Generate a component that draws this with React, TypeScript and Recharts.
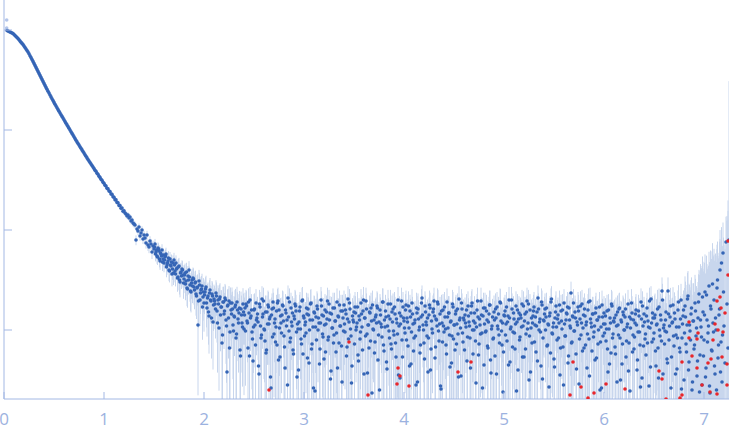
import React from 'react';
import { ScatterChart, Scatter, XAxis, YAxis, ErrorBar } from 'recharts';

// q grid step of the measurement (nm^-1)
const Q_STEP = 0.01;

// log10 intensity
const lowQStart = 0.03;
const lowQLogI = [
  -0.005, -0.01, -0.015, -0.02, -0.025, -0.03, -0.035, -0.045, -0.055, -0.065,
  -0.075, -0.085, -0.097, -0.11, -0.122, -0.134, -0.146, -0.16, -0.175, -0.19,
  -0.205, -0.22, -0.238, -0.257, -0.276, -0.295, -0.314, -0.334, -0.354, -0.374,
  -0.394, -0.414, -0.434, -0.454, -0.474, -0.494, -0.514, -0.534, -0.554, -0.574,
  -0.593, -0.612, -0.631, -0.65, -0.669, -0.688, -0.706, -0.724, -0.742, -0.76,
  -0.778, -0.796, -0.813, -0.83, -0.847, -0.864, -0.881, -0.898, -0.915, -0.932,
  -0.949, -0.966, -0.983, -1.0, -1.017, -1.034, -1.051, -1.068, -1.085, -1.102,
  -1.119, -1.135, -1.151, -1.167, -1.183, -1.199, -1.215, -1.231, -1.247, -1.263,
  -1.279, -1.295, -1.31, -1.325, -1.34, -1.355, -1.37, -1.385, -1.402, -1.413,
  -1.432, -1.443, -1.462, -1.474, -1.492, -1.503, -1.523, -1.533, -1.553, -1.561,
  -1.582, -1.589, -1.61, -1.616, -1.64, -1.643, -1.668, -1.672, -1.697, -1.699,
  -1.725, -1.727, -1.754, -1.755, -1.783, -1.78, -1.812, -1.808,
];

const midQStart = 1.21;
const midQLogI = [
  -1.83, -1.84, -1.86, -1.85, -1.88, -1.87, -1.91, -1.9, -1.93, -1.94,
  -1.95, -2.1, -1.99, -2.01, -1.97, -2.06, -2.03, -2.0, -2.09, -2.05,
  -2.08, -2.13, -2.05, -2.15, -2.17, -2.11, -2.14, -2.22, -2.16, -2.19,
  -2.14, -2.22, -2.26, -2.18, -2.21, -2.31, -2.24, -2.2, -2.29, -2.33,
  -2.27, -2.24, -2.35, -2.31, -2.4, -2.29, -2.36, -2.44, -2.33, -2.3,
  -2.41, -2.33, -2.38, -2.47, -2.36, -2.52, -2.42, -2.39, -2.45, -2.49,
  -2.43, -2.51, -2.58, -2.46, -2.4, -2.55, -2.62, -2.5, -2.48, -2.57,
  -2.53, -2.64, -2.58, -2.95, -2.51, -2.7, -2.6, -2.56, -2.67, -2.73,
  -2.62, -2.57, -2.78, -2.66, -2.86, -2.6, -2.71, -2.64, -2.92, -2.69,
  -2.74, -2.63, -2.81, -2.7, -2.98, -2.67, -2.77, -3.13, -2.72, -2.84,
  -2.68, -2.9, -3.42, -2.75, -2.71, -3.02, -2.8, -2.73, -2.95, -2.86,
  -2.77, -3.08, -2.72, -2.89, -2.83, -3.2, -2.79, -2.93, -2.74, -2.99,
];

// the in-between q values (half a step later) from 1.505 on
const midQStartB = 1.505;
const midQLogIB = [
  -2.17, -2.24, -2.2, -2.27, -2.19, -2.29, -2.23, -2.26, -2.32, -2.25,
  -2.3, -2.26, -2.37, -2.33, -2.28, -2.41, -2.35, -2.32, -2.39, -2.43,
  -2.35, -2.44, -2.39, -2.48, -2.37, -2.5, -2.43, -2.46, -2.4, -2.53,
  -2.45, -2.54, -2.42, -2.59, -2.5, -2.47, -2.61, -2.53, -2.56, -2.49,
  -2.6, -2.52, -2.66, -2.57, -2.71, -2.55, -2.63, -2.59, -2.77, -2.62,
  -2.65, -2.59, -2.73, -2.68, -2.82, -2.63, -2.7, -2.88, -2.66, -2.75,
  -2.71, -2.79, -2.66, -2.93, -2.74, -2.69, -2.85, -2.77, -3.05, -2.72,
  -2.81, -2.7, -2.96, -2.76, -2.88, -3.18, -2.73, -2.84, -2.79, -3.01,
  -2.87, -2.75, -3.04, -2.8, -2.93, -2.78, -3.26, -2.85, -2.97, -2.82,
];

const highQStart = 2.41;
const highQLogI = [
  -2.78, -2.74, -2.91, -3.18, -2.83, -2.7, -2.86, -3.02, -3.31, -2.8,
  -2.95, -2.73, -2.88, -2.92, -3.44, -2.77, -3.08, -2.69, -2.84, -2.99,
  -3.11, -3.23, -2.82, -2.75, -2.94, -2.87, -3.58, -2.79, -2.72, -3.04,
  -2.89, -2.97, -3.15, -2.71, -2.8, -3.27, -2.93, -2.85, -2.76, -3.06,
  -3.38, -2.83, -2.9, -2.68, -3.01, -3.12, -2.78, -2.96, -3.2, -2.86,
  -2.74, -2.81, -3.47, -2.99, -2.92, -2.77, -3.09, -2.71, -3.24, -2.88,
  -2.95, -3.03, -2.84, -2.79, -3.33, -2.9, -2.73, -3.14, -2.97, -2.82,
  -3.61, -2.87, -2.76, -3.0, -2.93, -3.19, -2.7, -2.85, -3.07, -3.29,
  -2.8, -2.94, -2.89, -3.1, -2.74, -2.83, -3.41, -2.98, -2.78, -3.05,
  -2.91, -3.22, -2.72, -2.86, -3.13, -2.96, -2.81, -3.52, -2.88, -2.75,
  -3.02, -2.84, -3.17, -2.69, -2.92, -2.79, -3.06, -3.36, -2.9, -2.82,
  -2.77, -3.0, -2.93, -3.25, -2.86, -3.09, -2.73, -2.97, -2.81, -3.44,
  -2.88, -2.71, -3.04, -2.95, -3.18, -2.83, -2.78, -3.63, -2.99, -2.9,
  -3.12, -2.85, -2.76, -3.3, -2.92, -2.8, -2.94, -3.07, -2.72, -3.21,
  -2.97, -2.87, -3.39, -2.74, -3.01, -2.89, -3.14, -2.82, -2.79, -3.05,
  -2.84, -3.27, -2.93, -2.7, -2.96, -3.48, -2.86, -3.1, -2.77, -2.91,
  -3.03, -2.75, -2.88, -3.16, -2.98, -2.81, -3.34, -2.73, -2.94, -3.08,
  -2.9, -3.55, -2.83, -2.79, -3.0, -3.23, -2.87, -2.68, -2.95, -3.13,
  -2.76, -2.92, -3.06, -3.42, -2.85, -2.78, -3.19, -2.99, -2.82, -2.71,
  -3.28, -2.89, -2.96, -2.74, -3.11, -2.84, -3.59, -2.93, -2.8, -3.02,
  -2.87, -3.15, -2.72, -2.98, -2.83, -3.37, -2.91, -3.06, -2.77, -2.95,
  -3.2, -2.81, -2.94, -3.04, -2.69, -2.88, -3.46, -2.79, -3.12, -2.9,
  -2.85, -2.97, -3.31, -2.76, -2.92, -3.08, -2.83, -2.73, -3.24, -3.0,
  -2.93, -3.53, -2.8, -2.87, -3.14, -2.95, -2.71, -3.03, -2.86, -3.35,
  -2.78, -3.01, -2.9, -3.18, -2.84, -2.75, -3.43, -2.96, -3.09, -2.82,
  -3.26, -2.88, -2.77, -2.99, -3.05, -2.72, -2.91, -3.15, -3.62, -2.85,
  -2.81, -2.94, -3.11, -2.86, -2.7, -3.32, -2.97, -2.79, -3.02, -2.89,
  -3.19, -2.76, -2.92, -3.4, -2.83, -3.07, -2.88, -2.74, -2.96, -3.27,
  -2.84, -3.04, -2.71, -2.93, -3.5, -2.8, -2.98, -3.13, -2.86, -2.77,
  -2.95, -3.22, -2.82, -2.68, -3.0, -2.89, -3.36, -2.75, -3.08, -2.91,
  -2.79, -2.87, -3.16, -2.94, -3.57, -2.83, -2.72, -3.03, -2.97, -3.29,
  -2.88, -2.76, -3.1, -2.85, -2.93, -3.45, -2.81, -2.99, -3.17, -2.73,
  -3.06, -2.9, -2.84, -3.33, -2.78, -2.96, -2.63, -3.12, -2.87, -3.01,
  -2.82, -3.24, -2.92, -2.77, -3.54, -2.89, -3.05, -2.74, -2.98, -3.18,
  -2.86, -2.95, -3.38, -2.8, -3.09, -2.71, -2.93, -3.21, -2.84, -3.02,
  -3.3, -2.78, -2.9, -3.14, -2.87, -3.6, -2.97, -2.75, -3.06, -2.83,
  -2.94, -3.11, -2.81, -3.42, -2.99, -2.88, -3.23, -2.76, -3.04, -2.92,
  -3.17, -2.85, -3.52, -2.95, -2.79, -3.08, -2.9, -3.34, -2.82, -3.0,
  -2.87, -3.27, -2.97, -2.74, -3.13, -3.61, -2.89, -2.83, -3.05, -3.19,
  -2.93, -2.8, -3.4, -3.02, -2.86, -3.15, -2.72, -3.48, -2.96, -2.84,
  -3.09, -3.25, -2.78, -2.91, -3.56, -2.98, -2.69, -3.12, -2.88, -3.03,
  -2.85, -3.36, -2.94, -3.18, -2.77, -3.06, -2.9, -2.61, -3.44, -2.95,
  -3.01, -2.82, -3.29, -2.61, -3.1, -2.87, -3.58, -2.93, -2.75, -3.16,
  -2.89, -3.05, -3.39, -2.8, -2.97, -3.22, -2.7, -3.08, -2.86, -3.5,
  -2.76, -3.14, -2.95, -2.66, -3.32, -3.01, -2.84, -3.6, -2.91, -3.19,
  -2.73, -3.06, -3.46, -2.88, -2.64, -3.25, -2.97, -3.55, -2.82, -3.1,
  -2.62, -3.38, -2.9, -3.03, -2.56, -3.63, -2.79, -3.21, -2.93, -2.7,
  -3.44, -3.0, -2.58, -3.28, -2.85, -2.4, -3.12, -3.52, -2.23, -2.96,
  -3.33, -2.12, -2.74, -3.18, -2.1,
];

const highQStartB = 2.405;
const highQLogIB = [
  -2.85, -3.01, -2.76, -2.93, -2.72, -3.26, -2.88, -2.8, -3.09, -2.97,
  -2.79, -3.15, -2.9, -2.84, -3.36, -2.74, -2.96, -3.05, -2.87, -2.71,
  -3.0, -2.82, -3.2, -2.94, -2.77, -2.89, -3.47, -2.85, -3.07, -2.78,
  -2.93, -3.12, -2.81, -2.73, -3.3, -2.98, -2.86, -3.03, -2.75, -2.91,
  -3.17, -2.8, -2.96, -3.55, -2.87, -2.72, -3.08, -2.92, -2.83, -3.24,
  -2.89, -2.76, -3.02, -2.94, -3.4, -2.81, -2.99, -3.14, -2.7, -2.86,
  -3.06, -2.92, -2.78, -3.28, -2.85, -3.0, -2.74, -3.19, -2.9, -3.58,
  -2.83, -2.97, -3.1, -2.79, -2.88, -3.34, -2.93, -2.76, -3.04, -2.86,
  -2.95, -3.22, -2.82, -2.71, -3.07, -2.9, -3.49, -2.84, -2.98, -3.13,
  -2.78, -2.91, -3.03, -3.38, -2.87, -2.75, -2.96, -3.16, -2.81, -3.01,
  -2.94, -2.8, -3.26, -2.89, -3.09, -2.73, -2.99, -3.53, -2.86, -2.92,
  -3.14, -2.83, -2.97, -2.77, -3.31, -2.9, -3.02, -2.84, -3.2, -2.7,
  -2.88, -3.06, -2.79, -3.43, -2.95, -2.82, -3.11, -2.91, -2.75, -3.0,
  -3.23, -2.87, -2.93, -2.78, -3.05, -3.6, -2.85, -2.97, -2.72, -3.15,
  -2.9, -2.81, -3.32, -2.96, -2.86, -3.08, -2.74, -3.19, -2.92, -3.01,
  -2.77, -3.13, -2.89, -3.04, -3.45, -2.83, -2.94, -2.71, -3.27, -2.88,
  -2.98, -2.8, -3.1, -2.92, -2.76, -3.36, -2.87, -3.02, -2.84, -3.21,
  -2.93, -3.06, -2.78, -3.52, -2.89, -2.97, -3.15, -2.73, -2.85, -3.0,
  -3.29, -2.82, -2.95, -2.88, -3.08, -2.75, -3.4, -2.91, -3.03, -2.79,
  -2.86, -3.17, -2.9, -2.72, -3.01, -2.94, -3.56, -2.81, -3.12, -2.96,
  -2.77, -2.99, -3.24, -2.87, -2.83, -3.05, -2.92, -3.33, -2.74, -3.09,
  -2.95, -2.84, -3.14, -2.79, -3.47, -2.9, -2.98, -2.73, -3.03, -2.88,
  -3.2, -2.93, -2.8, -3.07, -2.86, -2.96, -3.38, -2.76, -3.0, -2.91,
  -2.83, -3.11, -2.97, -2.71, -3.25, -2.89, -3.04, -2.85, -3.58, -2.78,
  -2.94, -3.02, -2.81, -3.16, -2.92, -2.75, -3.3, -2.99, -2.87, -3.08,
  -2.9, -2.79, -3.44, -2.96, -2.84, -3.13, -2.73, -3.01, -2.93, -3.22,
  -2.86, -3.05, -2.77, -2.92, -3.35, -2.88, -2.99, -2.7, -3.17, -2.83,
  -3.03, -2.94, -3.61, -2.8, -2.89, -3.1, -2.85, -2.97, -3.27, -2.76,
  -2.91, -3.19, -2.82, -2.99, -2.74, -3.06, -3.42, -2.88, -2.93, -2.81,
  -3.12, -2.87, -2.96, -3.31, -2.79, -2.92, -3.02, -2.72, -3.49, -2.9,
  -2.84, -3.0, -2.78, -3.15, -2.95, -2.86, -3.23, -2.69, -3.04, -2.93,
  -3.37, -2.82, -2.97, -2.89, -3.08, -2.75, -3.18, -2.91, -2.8, -3.55,
  -2.94, -3.06, -2.83, -2.77, -3.26, -2.9, -2.98, -3.13, -2.86, -2.73,
  -3.01, -2.88, -3.39, -2.95, -2.81, -3.09, -2.76, -2.93, -3.21, -2.85,
  -2.79, -3.15, -2.92, -3.04, -2.72, -3.46, -2.89, -2.97, -2.84, -3.07,
  -2.96, -2.83, -3.28, -2.9, -3.0, -2.77, -3.12, -3.58, -2.87, -2.94,
  -3.03, -2.86, -2.99, -3.19, -2.8, -3.34, -2.93, -2.74, -3.08, -2.91,
  -2.88, -3.24, -2.96, -2.82, -3.05, -2.78, -3.5, -2.92, -3.14, -2.85,
  -3.0, -2.79, -3.11, -2.94, -3.41, -2.87, -2.98, -2.73, -3.22, -2.9,
  -3.07, -2.84, -2.95, -3.3, -2.81, -3.02, -3.57, -2.89, -2.76, -3.16,
  -2.92, -3.04, -2.86, -3.13, -2.97, -2.71, -3.37, -2.93, -2.83, -3.09,
  -2.88, -3.21, -2.95, -2.79, -3.48, -3.0, -2.85, -3.11, -2.7, -2.98,
  -3.14, -2.9, -3.02, -3.33, -2.84, -2.96, -2.76, -3.27, -2.92, -3.06,
  -2.83, -3.44, -2.97, -3.08, -2.72, -3.18, -2.89, -3.59, -2.94, -2.8,
  -3.03, -2.87, -3.22, -2.69, -3.4, -2.95, -3.1, -2.78, -3.52, -2.91,
  -3.15, -2.81, -2.98, -3.31, -2.72, -3.62, -2.9, -3.07, -2.67, -3.26,
  -2.85, -3.47, -2.65, -3.12, -2.96, -3.56, -2.76, -3.2, -2.54, -3.02,
  -3.36, -2.88, -3.6, -2.5, -3.15, -2.79, -3.42, -2.33, -3.05, -2.62,
];

// points drawn in red (q, log10 I)
const flaggedQ = [
  2.65, 3.45, 3.64, 3.94, 3.96, 3.93, 4.05, 4.54, 4.67, 5.69,
  5.66, 5.77, 5.84, 5.9, 6.02, 6.21, 6.55, 6.58, 6.62, 6.76,
  6.78, 6.78, 6.85, 6.85, 6.88, 6.93, 6.93, 6.94, 6.98, 7.04,
  7.06, 7.07, 7.09, 7.11, 7.13, 7.13, 7.14, 7.16, 7.17, 7.18,
  7.19, 7.21, 7.23, 7.24, 7.24, 7.23,
];
const flaggedLogI = [
  -3.6, -3.12, -3.65, -3.38, -3.46, -3.54, -3.56, -3.42, -3.32, -3.32,
  -3.65, -3.57, -3.68, -3.63, -3.54, -3.59, -3.41, -3.49, -3.69, -3.68,
  -3.65, -3.32, -2.92, -3.08, -3.26, -3.38, -3.09, -3.03, -3.55, -3.33,
  -3.62, -3.29, -3.1, -2.94, -2.71, -3.64, -3.0, -2.67, -2.78, -3.27,
  -3.02, -2.83, -3.34, -2.45, -2.11, -3.55,
];

// pale points at the very start
const faintQ = [0.027, 0.027];
const faintLogI = [0.1, 0.02];

// absolute intensity error, by q range (upper edge of each range)
const sigmaEdges = [0.5, 2.0, 2.4, 6.5, 6.8, 6.95, 7.05, 7.15, 7.22, 7.245, 7.3];
const sigmaValues = [0.0015, 0.0009, 0.0008, 0.0007, 0.0009, 0.0017, 0.0033, 0.0045, 0.006, 0.012, 0.3];

const xTicks = [0, 1, 2, 3, 4, 5, 6, 7];
const yTicks = [0, -1, -2, -3];

const Y_MIN = -3.69;
const Y_MAX = 0.3;

const sigmaAt = (q: number) => {
  const i = sigmaEdges.findIndex(e => q <= e);
  return sigmaValues[i === -1 ? sigmaValues.length - 1 : i];
};

const toPoint = (q: number, v: number) => {
  const I = Math.pow(10, v);
  const s = sigmaAt(q);
  const top = Math.min(Math.log10(I + s), Y_MAX);
  const bottom = I - s > 0 ? Math.max(Math.log10(I - s), Y_MIN) : Y_MIN;
  return { q, v, err: [v - bottom, top - v] };
};

const fromGrid = (start: number, values: number[]) =>
  values.map((v, i) => toPoint(Math.round((start + i * Q_STEP) * 1000) / 1000, v));

const mainPoints = [
  ...fromGrid(lowQStart, lowQLogI),
  ...fromGrid(midQStart, midQLogI),
  ...fromGrid(midQStartB, midQLogIB),
  ...fromGrid(highQStart, highQLogI),
  ...fromGrid(highQStartB, highQLogIB),
];
const flaggedPoints = flaggedQ.map((q, i) => toPoint(q, flaggedLogI[i]));
const faintPoints = faintQ.map((q, i) => toPoint(q, faintLogI[i]));
const allPoints = [...faintPoints, ...mainPoints, ...flaggedPoints];

const AXIS = '#a3b8e4';

const dot = (fill: string) => (props: any) =>
  <circle cx={props.cx} cy={props.cy} r={1.8} fill={fill} />;

const XTick = (props: any) => (
  <g>
    <line x1={props.x} x2={props.x} y1={props.y} y2={props.y - 7} stroke={AXIS} />
    <text x={props.x} y={props.y + 26} textAnchor="middle" fill="#9cb2e0" fontSize={17} fontFamily="Open Sans">
      {props.payload.value}
    </text>
  </g>
);

const YTick = (props: any) => (
  <line x1={props.x} x2={props.x + 8} y1={props.y} y2={props.y} stroke={AXIS} />
);

export default function App() {
  return (
    <div style={{ width: 729, height: 437, background: '#fff' }}>
      <style>{'body{margin:0}'}</style>
      <ScatterChart width={729} height={437} margin={{ top: 0, right: 0, bottom: 0, left: 0 }}>
        <XAxis
          type="number"
          dataKey="q"
          domain={[0, 7.25]}
          ticks={xTicks}
          interval={0}
          allowDataOverflow
          height={38}
          stroke={AXIS}
          tickLine={false}
          tickSize={0}
          tickMargin={0}
          tick={XTick}
        />
        <YAxis
          type="number"
          dataKey="v"
          domain={[Y_MIN, Y_MAX]}
          ticks={yTicks}
          interval={0}
          allowDataOverflow
          width={4}
          stroke={AXIS}
          tickLine={false}
          tickSize={0}
          tickMargin={0}
          tick={YTick}
        />
        <Scatter data={allPoints} isAnimationActive={false} shape={() => <g />}>
          <ErrorBar dataKey="err" direction="y" width={0} stroke="#c8d6ed" strokeWidth={1} />
        </Scatter>
        <Scatter data={faintPoints} isAnimationActive={false} shape={dot('#b3c5ea')} />
        <Scatter data={mainPoints} isAnimationActive={false} shape={dot('#3565b6')} />
        <Scatter data={flaggedPoints} isAnimationActive={false} shape={dot('#e8262b')} />
      </ScatterChart>
    </div>
  );
}
